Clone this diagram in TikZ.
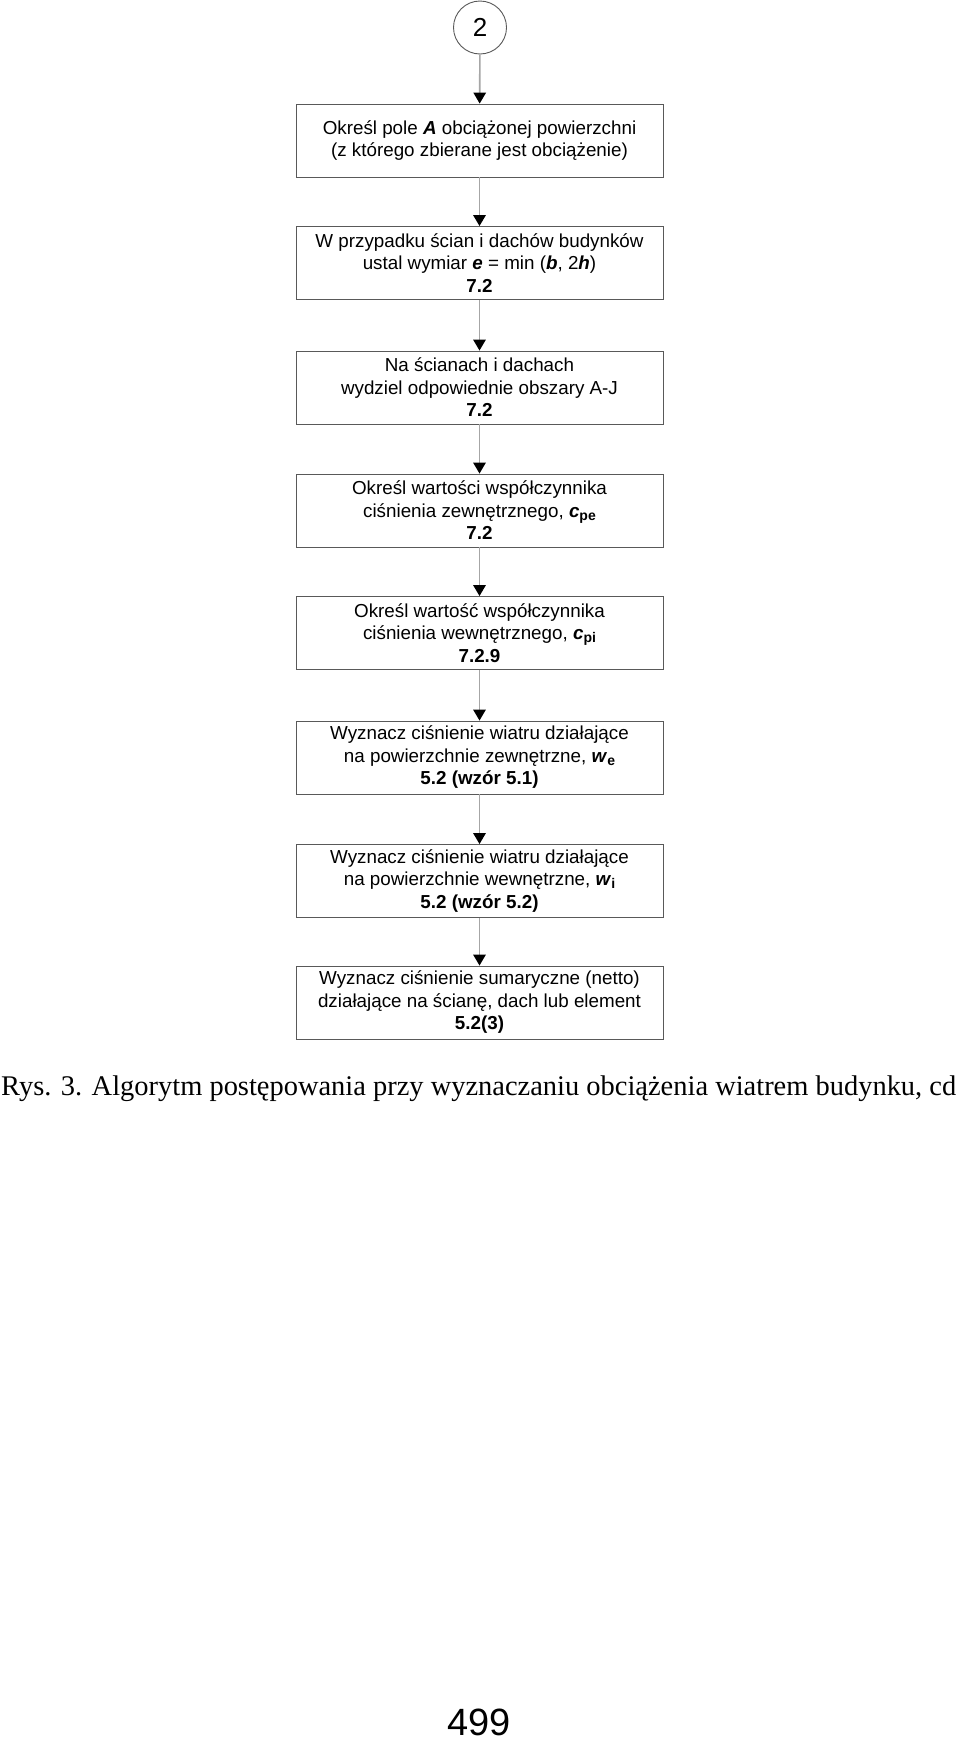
\documentclass[tikz,border=0pt]{standalone}
\usepackage{fontspec}
\usepackage{graphicx}
\setmainfont{Liberation Sans}
\newfontfamily\capfont{Liberation Serif}
\usetikzlibrary{arrows.meta}
\newcommand{\subb}[1]{\raisebox{-0.3ex}{\fontsize{14}{14}\selectfont\bfseries #1}}
\newcommand{\bi}[1]{\textbf{\textit{#1}}}
\begin{document}
\begin{tikzpicture}[x=1pt,y=-1pt,
  stepbox/.style={draw=black!65, line width=0.9pt, minimum width=367pt, minimum height=73pt,
    inner sep=0pt, align=center, font=\fontsize{18.8}{22.5}\selectfont},
  conn/.style={draw=black!35, line width=1.6pt, -{Triangle[length=11pt,width=12.5pt,color=black]}},
  startnode/.style={circle, draw=black!65, line width=0.9pt, minimum size=53pt, inner sep=0pt,
    font=\fontsize{26}{26}\selectfont}]
\fill[white] (0,0) rectangle (960,1743);
\useasboundingbox (0,0) rectangle (960,1743);

\node[startnode] (c) at (480,27.5) {2};

\node[stepbox] (b1) at (479.5,140.5) {Określ pole \bi{A} obciążonej powierzchni\\(z którego zbierane jest obciążenie)};
\node[stepbox] (b2) at (479.5,263) {W przypadku ścian i dachów budynków\\ustal wymiar \bi{e} = min (\bi{b}, 2\bi{h})\\\textbf{7.2}};
\node[stepbox] (b3) at (479.5,387.5) {Na ścianach i dachach\\wydziel odpowiednie obszary A-J\\\textbf{7.2}};
\node[stepbox] (b4) at (479.5,510.5) {Określ wartości współczynnika\\ciśnienia zewnętrznego, \bi{c}\subb{pe}\\\textbf{7.2}};
\node[stepbox] (b5) at (479.5,633) {Określ wartość współczynnika\\ciśnienia wewnętrznego, \bi{c}\subb{pi}\\\textbf{7.2.9}};
\node[stepbox] (b6) at (479.5,757.5) {Wyznacz ciśnienie wiatru działające\\na powierzchnie zewnętrzne, \bi{w}\subb{e}\\\textbf{5.2 (wzór 5.1)}};
\node[stepbox] (b7) at (479.5,881) {Wyznacz ciśnienie wiatru działające\\na powierzchnie wewnętrzne, \bi{w}\subb{i}\\\textbf{5.2 (wzór 5.2)}};
\node[stepbox] (b8) at (479.5,1002.5) {Wyznacz ciśnienie sumaryczne (netto)\\działające na ścianę, dach lub element\\\textbf{5.2(3)}};

\draw[conn] (c) -- (b1);
\draw[conn] (b1) -- (b2);
\draw[conn] (b2) -- (b3);
\draw[conn] (b3) -- (b4);
\draw[conn] (b4) -- (b5);
\draw[conn] (b5) -- (b6);
\draw[conn] (b6) -- (b7);
\draw[conn] (b7) -- (b8);

\node[anchor=base west, inner sep=0pt] (cap) at (1,1095)
  {\resizebox{955pt}{!}{\capfont\fontsize{28.6}{28.6}\selectfont Rys. 3. Algorytm postępowania przy wyznaczaniu obciążenia wiatrem budynku, cd}};
\node[anchor=base, inner sep=0pt, font=\fontsize{38}{38}\selectfont] (pg) at (479,1735) {499};
\end{tikzpicture}
\end{document}
